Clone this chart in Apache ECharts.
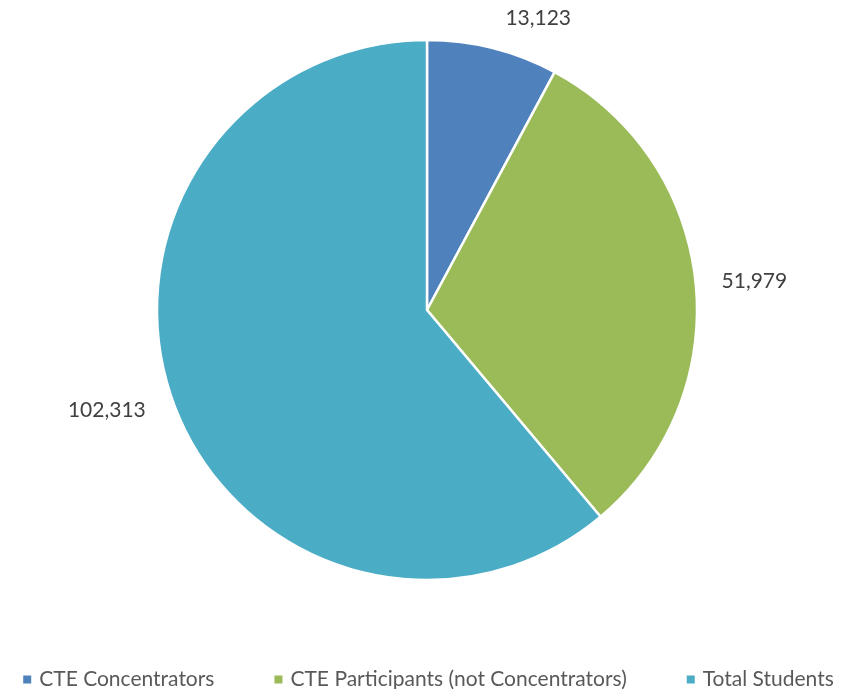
<!DOCTYPE html>
<html>
<head>
<meta charset="utf-8">
<script src="https://cdn.jsdelivr.net/npm/echarts@6/dist/echarts.min.js"></script>
<style>
  html, body { margin: 0; padding: 0; background: #fff; }
  #main { width: 857px; height: 689px; }
</style>
</head>
<body>
<div id="main"></div>
<script>
var categories = ['CTE Concentrators', 'CTE Participants (not Concentrators)', 'Total Students'];
var values = [13123, 51979, 102313];
var colors = ['#4F81BD', '#9BBB59', '#4BACC6'];

var chart = echarts.init(document.getElementById('main'));

// per-slice label line tweaks so the value labels sit where Excel put them
var labelLines = [
    { length: 31, length2: 0 },
    { length: 7, length2: 14 },
    { length: 24, length2: 0 }
];

var data = categories.map(function (name, i) {
    return {
        name: name,
        value: values[i],
        itemStyle: { color: colors[i] },
        labelLine: labelLines[i]
    };
});

chart.setOption({
    animation: false,
    textStyle: { fontFamily: 'Lato, "Open Sans", sans-serif' },
    legend: {
        data: categories,
        left: 'center',
        top: 664,
        icon: 'rect',
        itemWidth: 8,
        itemHeight: 8,
        itemGap: 60,
        itemStyle: { borderWidth: 0 },
        textStyle: { fontSize: 21, color: '#595959', padding: [0, 0, 0, 3] }
    },
    series: [{
        type: 'pie',
        center: [427, 310],
        radius: 270,
        startAngle: 90,
        clockwise: true,
        avoidLabelOverlap: false,
        data: data,
        itemStyle: { borderColor: '#fff', borderWidth: 2.5 },
        label: {
            show: true,
            position: 'outside',
            fontSize: 21,
            color: '#404040',
            formatter: function (p) {
                return p.value.toLocaleString('en-US');
            }
        },
        labelLine: { show: false },
        emphasis: { disabled: true }
    }]
});
</script>
</body>
</html>
